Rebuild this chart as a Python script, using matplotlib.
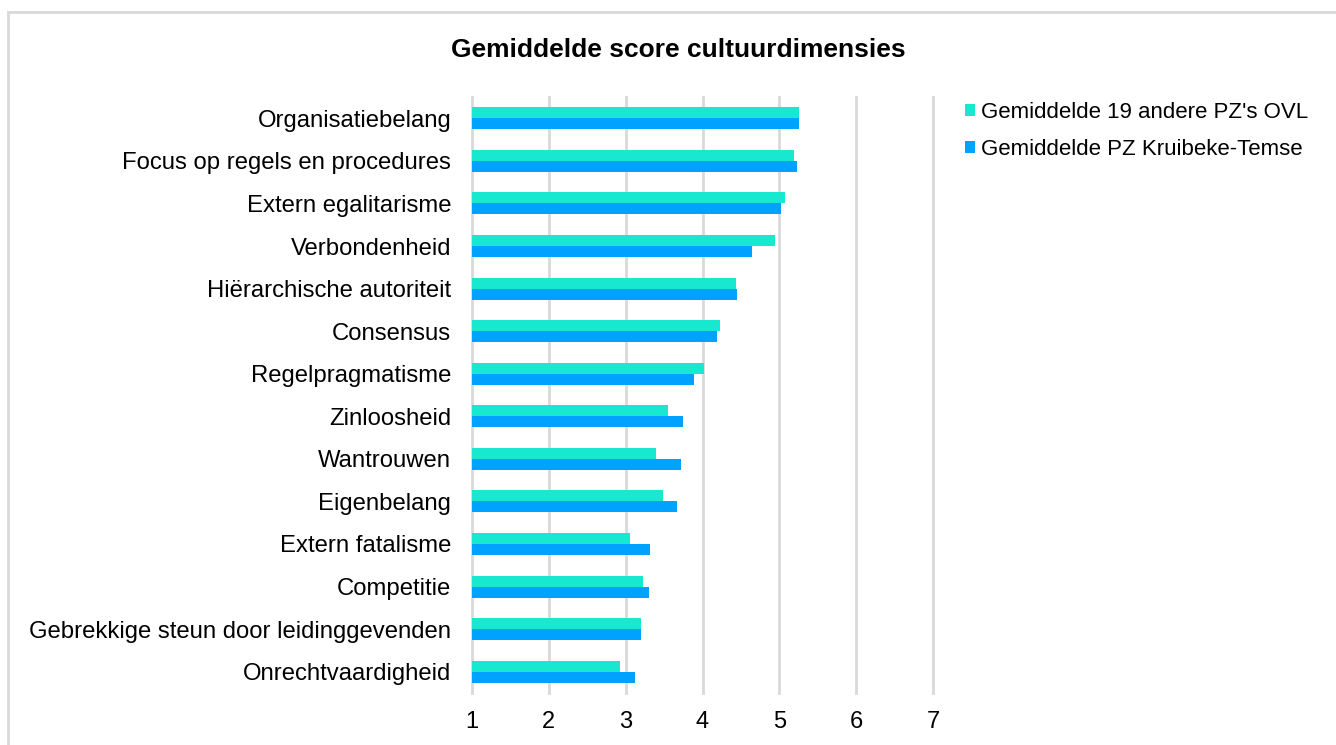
import matplotlib
matplotlib.use("Agg")
import matplotlib.pyplot as plt
from matplotlib.patches import Rectangle
import numpy as np

plt.rcParams["font.family"] = ["Liberation Sans", "DejaVu Sans"]

categories = [
    "Organisatiebelang",
    "Focus op regels en procedures",
    "Extern egalitarisme",
    "Verbondenheid",
    "Hiërarchische autoriteit",
    "Consensus",
    "Regelpragmatisme",
    "Zinloosheid",
    "Wantrouwen",
    "Eigenbelang",
    "Extern fatalisme",
    "Competitie",
    "Gebrekkige steun door leidinggevenden",
    "Onrechtvaardigheid",
]

andere_pz = [5.26, 5.19, 5.07, 4.95, 4.43, 4.23, 4.02,
             3.55, 3.40, 3.48, 3.05, 3.23, 3.20, 2.92]
kruibeke_temse = [5.26, 5.23, 5.02, 4.65, 4.45, 4.19, 3.89,
                  3.75, 3.72, 3.67, 3.32, 3.30, 3.20, 3.12]

series_labels = ["Gemiddelde 19 andere PZ's OVL", "Gemiddelde PZ Kruibeke-Temse"]
x_ticks = [1, 2, 3, 4, 5, 6, 7]

teal = "#19e8d0"
blue = "#00a2ff"

fig = plt.figure(figsize=(13.36, 7.45), dpi=100)
ax = fig.add_axes([472 / 1336, 1 - 693 / 745, (933 - 472) / 1336, (693 - 97) / 745])

y = np.arange(len(categories))
h = 0.26
ax.barh(y - h / 2, [v - 1 for v in andere_pz], left=1, height=h,
        color=teal, label=series_labels[0], zorder=3)
ax.barh(y + h / 2, [v - 1 for v in kruibeke_temse], left=1, height=h,
        color=blue, label=series_labels[1], zorder=3)

ax.set_xlim(1, 7)
ax.set_ylim(len(categories) - 0.5, -0.5)
ax.set_xticks(x_ticks)
ax.set_yticks(y)
ax.set_yticklabels(categories, fontsize=17.2, color="#000000")
ax.tick_params(axis="y", length=0, pad=15)
ax.tick_params(axis="x", length=0, pad=13, labelsize=17)
ax.grid(axis="x", color="#d9d9d9", linewidth=2, zorder=0)
for line in ax.get_xgridlines():
    line.set_clip_on(False)
for s in ax.spines.values():
    s.set_visible(False)

fig.text(678 / 1336, 1 - 50 / 745, "Gemiddelde score cultuurdimensies",
         ha="center", va="center", fontsize=19, fontweight="bold")

fig.legend(loc="upper left", bbox_to_anchor=(965 / 1336, 1 - 102 / 745),
           frameon=False, fontsize=16, handlelength=0.45, handleheight=0.45,
           handletextpad=0.25, labelspacing=0.72, borderpad=0, borderaxespad=0)

# light frame around the chart area
fig.patches.append(Rectangle((8 / 1336, -0.1), 1.2, 1.1 - 12 / 745,
                             transform=fig.transFigure, fill=False,
                             edgecolor="#d9d9d9", linewidth=2))

fig.savefig("out.png", dpi=100)
